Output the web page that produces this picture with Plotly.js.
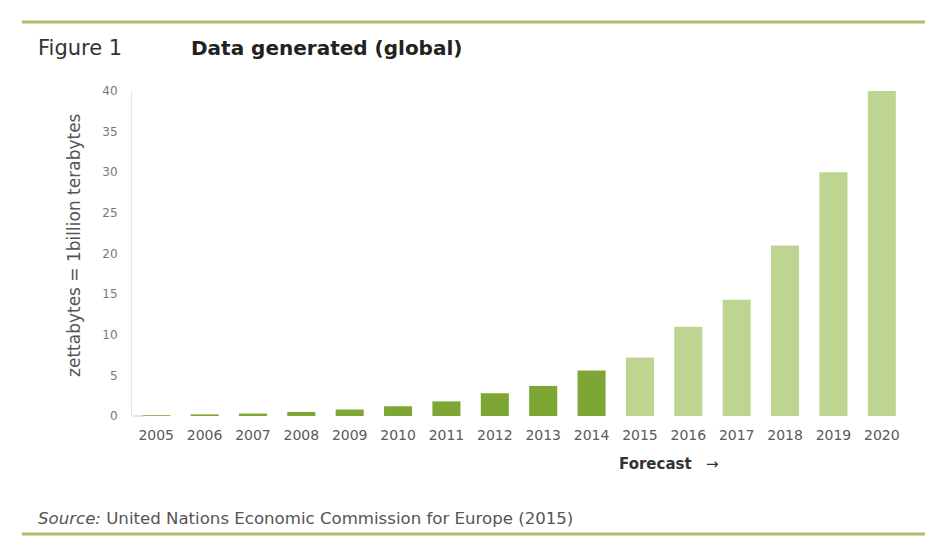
<!DOCTYPE html>
<html>
<head>
<meta charset="utf-8">
<script src="https://cdn.plot.ly/plotly-3.0.1.min.js"></script>
<style>html,body{margin:0;padding:0;background:#fff;}#chart{width:925px;height:537px;}</style>
</head>
<body>
<div id="chart"></div>
<script>
const years = ["2005","2006","2007","2008","2009","2010","2011","2012","2013","2014"];
const actualValues = [0.1, 0.2, 0.3, 0.5, 0.8, 1.2, 1.8, 2.8, 3.7, 5.6];
const forecastYears = ["2015","2016","2017","2018","2019","2020"];
const forecastValues = [7.2, 11.0, 14.3, 21.0, 30.0, 40.0];
const yTicks = [0, 5, 10, 15, 20, 25, 30, 35, 40];

const W = 925, H = 537;
const L = 132, R = 19, T = 91, B = 121;
const pw = W - L - R, ph = H - T - B;
const px = v => (v - L) / pw;
const py = v => (H - B - v) / ph;

const traces = [
  {type:'bar', x: years, y: actualValues, marker:{color:'#7ea634'}, hoverinfo:'x+y'},
  {type:'bar', x: forecastYears, y: forecastValues, marker:{color:'#bdd591'}, hoverinfo:'x+y'}
];

const layout = {
  width: W, height: H,
  margin: {l: L, r: R, t: T, b: B, pad: 0},
  paper_bgcolor: '#ffffff', plot_bgcolor: '#ffffff',
  showlegend: false,
  barmode: 'group',
  bargap: 0.42,
  font: {family: 'DejaVu Sans, sans-serif', color: '#666'},
  xaxis: {
    type: 'category',
    categoryorder: 'array',
    categoryarray: years.concat(forecastYears),
    showgrid: false, zeroline: false, showline: false,
    ticks: '', ticklabelstandoff: 9,
    tickfont: {family: 'DejaVu Sans, sans-serif', size: 14, color: '#5a5a5a'}
  },
  yaxis: {
    range: [0, 40],
    tickvals: yTicks,
    ticktext: yTicks.map(String),
    showgrid: false, zeroline: false,
    showline: true, linecolor: '#e6e6e6', linewidth: 1,
    ticks: '', ticklabelstandoff: 11,
    tickfont: {family: 'DejaVu Sans, sans-serif', size: 12, color: '#777'}
  },
  shapes: [
    {type:'line', xref:'paper', yref:'paper', x0: px(22), x1: px(925), y0: py(22), y1: py(22), line:{color:'#a9c16e', width:3}},
    {type:'line', xref:'paper', yref:'paper', x0: px(22), x1: px(925), y0: py(534), y1: py(534), line:{color:'#a9c16e', width:3}},
    {type:'line', xref:'paper', yref:'paper', x0: px(133), x1: px(145), y0: py(416), y1: py(416), line:{color:'#cccccc', width:1}}
  ],
  annotations: [
    {xref:'paper', yref:'paper', x: px(36), y: py(48), xanchor:'left', yanchor:'middle', showarrow:false,
     text:'Figure 1', font:{family:'DejaVu Sans, sans-serif', size:21, color:'#333'}},
    {xref:'paper', yref:'paper', x: px(189), y: py(48), xanchor:'left', yanchor:'middle', showarrow:false,
     text:'<b>Data generated (global)</b>', font:{family:'DejaVu Sans, sans-serif', size:20, color:'#222'}},
    {xref:'paper', yref:'paper', x: px(74), y: py(245), xanchor:'center', yanchor:'middle', showarrow:false, textangle:-90,
     text:'zettabytes = 1billion terabytes', font:{family:'DejaVu Sans, sans-serif', size:17, color:'#555'}},
    {xref:'paper', yref:'paper', x: px(617), y: py(464), xanchor:'left', yanchor:'middle', showarrow:false,
     text:'<b>Forecast</b>   →', font:{family:'DejaVu Sans, sans-serif', size:15, color:'#333'}},
    {xref:'paper', yref:'paper', x: px(36), y: py(518), xanchor:'left', yanchor:'middle', showarrow:false,
     text:'<i>Source:</i> United Nations Economic Commission for Europe (2015)', font:{family:'DejaVu Sans, sans-serif', size:16.6, color:'#555'}}
  ]
};

Plotly.newPlot('chart', traces, layout, {displayModeBar: false, staticPlot: true});
</script>
</body>
</html>
